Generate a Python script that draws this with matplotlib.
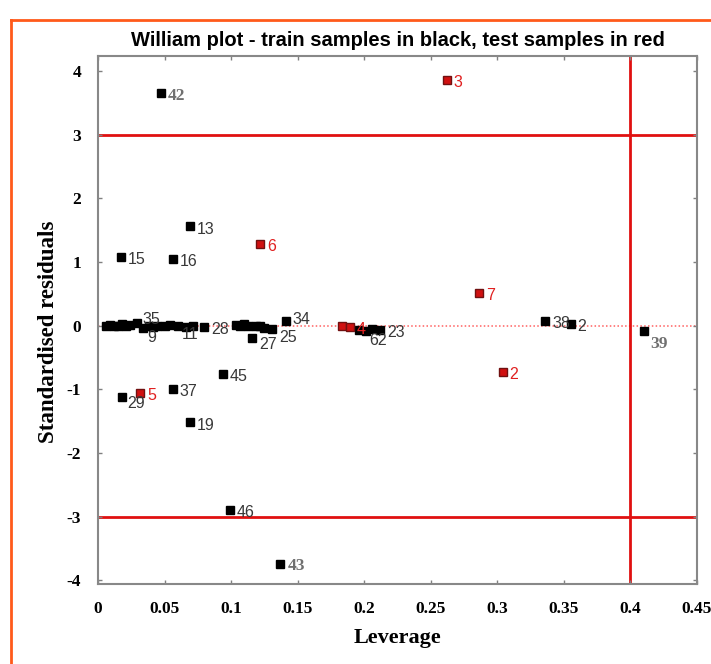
import matplotlib
matplotlib.use("Agg")
import matplotlib.pyplot as plt
from matplotlib.lines import Line2D

# ---- data ----
train_x = [0.047, 0.069, 0.017, 0.056, 0.336, 0.355, 0.410, 0.094, 0.056, 0.018, 0.069, 0.099, 0.137,
           0.141, 0.116, 0.131, 0.029, 0.034,
           0.006, 0.009, 0.012, 0.015, 0.018, 0.021, 0.024, 0.038, 0.041, 0.044,
           0.050, 0.054, 0.060, 0.066, 0.071, 0.080,
           0.104, 0.107, 0.110, 0.113, 0.119, 0.122, 0.125,
           0.196, 0.201, 0.206, 0.212]
train_y = [3.66, 1.56, 1.08, 1.05, 0.08, 0.03, -0.09, -0.755, -0.99, -1.12, -1.52, -2.89, -3.74,
           0.07, -0.19, -0.05, 0.05, -0.04,
           0.0, 0.01, -0.01, 0.0, 0.02, -0.01, 0.01, 0.0, -0.02, 0.0,
           -0.01, 0.01, 0.0, -0.02, 0.0, -0.02,
           0.01, -0.01, 0.02, 0.0, -0.01, 0.0, -0.03,
           -0.06, -0.08, -0.05, -0.06]
train_lab = ["42", "13", "15", "16", "38", "2", "39", "45", "37", "29", "19", "46", "43",
             "34", "27", "25", "35", "9",
             "", "", "", "", "", "", "", "", "", "",
             "", "", "11", "", "", "28",
             "", "", "", "", "", "", "",
             "", "62", "", "23"]

test_x = [0.262, 0.122, 0.286, 0.304, 0.0316, 0.183, 0.189]
test_y = [3.87, 1.29, 0.52, -0.72, -1.05, 0.0, -0.02]
test_lab = ["3", "6", "7", "2", "5", "", "4"]

serif_labels = ["42", "39", "43"]

x_ticks = [0, 0.05, 0.1, 0.15, 0.2, 0.25, 0.3, 0.35, 0.4, 0.45]
x_tick_labels = ["0", "0.05", "0.1", "0.15", "0.2", "0.25", "0.3", "0.35", "0.4", "0.45"]
y_ticks = [4, 3, 2, 1, 0, -1, -2, -3, -4]
y_tick_labels = ["4", "3", "2", "1", "0", "-1", "-2", "-3", "-4"]

h_limit = 3
lev_limit = 0.4

# label offsets (points) where they differ from the default
label_offsets = {"39": (5, -9), "9": (3, -7), "11": (3, -6), "62": (3, -7), "25": (5, -6),
                 "34": (5, 1), "27": (5, -5), "29": (4, -5), "35": (4, 2)}

# ---- figure ----
fig = plt.figure(figsize=(7.11, 6.64), dpi=100)
ax = fig.add_axes([98/711, 1-584/664, (697-98)/711, (584-56)/664])

# orange frame
fig.add_artist(Line2D([11/711, 11/711], [0, 1-20/664], color="#ff5a1a", lw=2, transform=fig.transFigure))
fig.add_artist(Line2D([11/711, 1], [1-20/664, 1-20/664], color="#ff5a1a", lw=2, transform=fig.transFigure))

ax.set_xlim(0, 0.45)
ax.set_ylim(-4.06, 4.24)

ax.axhline(0, color="#ff6060", lw=1.1, ls=(0, (1, 1.5)), zorder=1)
ax.axhline(h_limit, color="#e01010", lw=2, zorder=1)
ax.axhline(-h_limit, color="#e01010", lw=2, zorder=1)
ax.axvline(lev_limit, color="#e01010", lw=2, zorder=1)

ax.plot(train_x, train_y, ls="none", marker="s", ms=5.8, mfc="black", mec="black", zorder=3)
ax.plot(test_x, test_y, ls="none", marker="s", ms=5.8, mfc="#d01010", mec="#701010", zorder=3)

def put_label(x, y, l, color, serif):
    off = label_offsets.get(l, (5, -2))
    if serif:
        ax.annotate(l, (x, y), xytext=off, textcoords="offset points", ha="left", va="center",
                    fontsize=12.5, color="#707070", family="Liberation Serif", fontweight="bold", zorder=4)
    else:
        ax.annotate(l, (x, y), xytext=off, textcoords="offset points", ha="left", va="center",
                    fontsize=11.5, color=color, family="Liberation Sans", zorder=4)

for x, y, l in zip(train_x, train_y, train_lab):
    if l:
        put_label(x, y, l, "#383838", l in serif_labels)
for x, y, l in zip(test_x, test_y, test_lab):
    if l:
        put_label(x, y, l, "#e02020", False)

ax.set_xticks(x_ticks)
ax.set_xticklabels(x_tick_labels)
ax.set_yticks(y_ticks)
ax.set_yticklabels(y_tick_labels)
ax.tick_params(direction="in", length=3, width=1, color="#808080", top=True, right=True,
               labelsize=12.5, pad=12)
for lab in ax.get_xticklabels() + ax.get_yticklabels():
    lab.set_family("Liberation Serif")
    lab.set_fontweight("bold")
for s in ax.spines.values():
    s.set_color("#888888")
    s.set_linewidth(1.5)

ax.set_xlabel("Leverage", family="Liberation Serif", fontweight="bold", fontsize=16, labelpad=8)
ax.set_ylabel("Standardised residuals", family="Liberation Serif", fontweight="bold", fontsize=16.5)
ax.yaxis.set_label_coords(-0.065, 0.477)
ax.set_title("William plot - train samples in black, test samples in red",
             family="Liberation Sans", fontweight="bold", fontsize=14.5, pad=7)

fig.savefig("out.png", dpi=100)
